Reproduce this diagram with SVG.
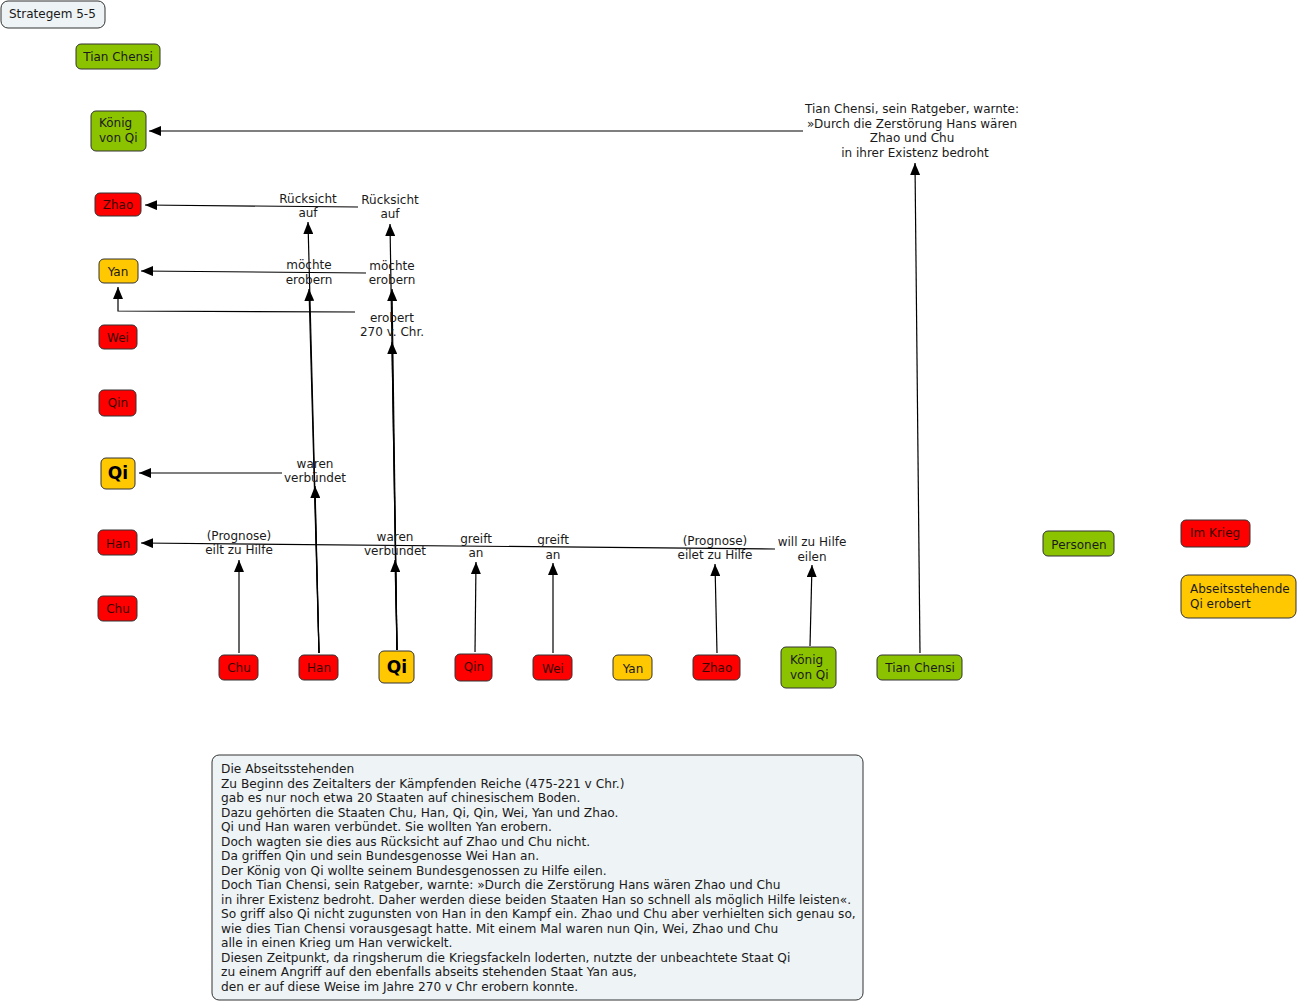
<svg xmlns="http://www.w3.org/2000/svg" width="1298" height="1002" viewBox="0 0 1298 1002">
<defs>
<marker id="ah" markerUnits="userSpaceOnUse" markerWidth="12" markerHeight="10" refX="12" refY="5" orient="auto"><path d="M0,0 L12,5 L0,10 z" fill="#000"/></marker>
<style>
text{font-family:"DejaVu Sans",Verdana,sans-serif;font-size:12px;fill:#1a1a1a}
.n rect{stroke:#333;stroke-width:1}
.g{fill:#8cc300}
.r{fill:#ff0000}
.o{fill:#ffc800}
.l{fill:#eef3f5}
.rt{fill:#3a0000}
.b{font-weight:bold;font-size:17px;fill:#000}
.c{text-anchor:middle}
#conn path{fill:none;stroke:#000;stroke-width:1.2}
.box text{font-size:12.2px}
</style>
</defs>
<rect width="1298" height="1002" fill="#fff"/>
<g id="conn">
<path d="M920,653 L915,163" marker-end="url(#ah)"/>
<path d="M803,131 L149,131" marker-end="url(#ah)"/>
<path d="M358,207 L145,205" marker-end="url(#ah)"/>
<path d="M366,273 L141,271" marker-end="url(#ah)"/>
<path d="M355,312 L118,311 L118,287" marker-end="url(#ah)"/>
<path d="M282,473 L139,473" marker-end="url(#ah)"/>
<path d="M775,549 L141,543" marker-end="url(#ah)"/>
<path d="M239,653 L239,560" marker-end="url(#ah)"/>
<path d="M319,653 L315,486" marker-end="url(#ah)"/>
<path d="M319,653 L309,289" marker-end="url(#ah)"/>
<path d="M319,653 L308,222" marker-end="url(#ah)"/>
<path d="M397,650 L395,560" marker-end="url(#ah)"/>
<path d="M397,650 L392,342" marker-end="url(#ah)"/>
<path d="M397,650 L392,289" marker-end="url(#ah)"/>
<path d="M397,650 L390,224" marker-end="url(#ah)"/>
<path d="M475,652 L476,562" marker-end="url(#ah)"/>
<path d="M553,653 L553,563" marker-end="url(#ah)"/>
<path d="M717,653 L715,564" marker-end="url(#ah)"/>
<path d="M810,646 L812,565" marker-end="url(#ah)"/>
</g>
<g id="labels">
<text class="c" x="912" y="113">Tian Chensi, sein Ratgeber, warnte:</text>
<text class="c" x="912" y="128">»Durch die Zerstörung Hans wären</text>
<text class="c" x="912" y="142">Zhao und Chu</text>
<text class="c" x="915" y="157">in ihrer Existenz bedroht</text>
<text class="c" x="308" y="203">Rücksicht</text><text class="c" x="308" y="217">auf</text>
<text class="c" x="390" y="204">Rücksicht</text><text class="c" x="390" y="218">auf</text>
<text class="c" x="309" y="269">möchte</text><text class="c" x="309" y="284">erobern</text>
<text class="c" x="392" y="270">möchte</text><text class="c" x="392" y="284">erobern</text>
<text class="c" x="392" y="322">erobert</text><text class="c" x="392" y="336">270 v. Chr.</text>
<text class="c" x="315" y="468">waren</text><text class="c" x="315" y="482">verbündet</text>
<text class="c" x="239" y="540">(Prognose)</text><text class="c" x="239" y="554">eilt zu Hilfe</text>
<text class="c" x="395" y="541">waren</text><text class="c" x="395" y="555">verbündet</text>
<text class="c" x="476" y="543">greift</text><text class="c" x="476" y="557">an</text>
<text class="c" x="553" y="544">greift</text><text class="c" x="553" y="559">an</text>
<text class="c" x="715" y="545">(Prognose)</text><text class="c" x="715" y="559">eilet zu Hilfe</text>
<text class="c" x="812" y="546">will zu Hilfe</text><text class="c" x="812" y="561">eilen</text>
</g>
<g id="strategem" class="n"><rect class="l" x="1" y="1" width="104" height="27" rx="7"/><text x="9" y="18">Strategem 5-5</text></g>
<g id="tian-top" class="n"><rect class="g" x="76" y="44" width="84" height="25" rx="5"/><text class="c" x="118" y="61">Tian Chensi</text></g>
<g id="koenig-left" class="n"><rect class="g" x="91" y="111" width="55" height="40" rx="5"/><text x="99" y="127">König</text><text x="99" y="142">von Qi</text></g>
<g id="zhao-left" class="n"><rect class="r" x="95" y="193" width="46" height="23" rx="5"/><text class="c rt" x="118" y="209">Zhao</text></g>
<g id="yan-left" class="n"><rect class="o" x="99" y="259" width="39" height="24" rx="5"/><text class="c" x="118" y="276">Yan</text></g>
<g id="wei-left" class="n"><rect class="r" x="99" y="325" width="38" height="24" rx="5"/><text class="c rt" x="118" y="342">Wei</text></g>
<g id="qin-left" class="n"><rect class="r" x="99" y="390" width="37" height="26" rx="5"/><text class="c rt" x="118" y="407">Qin</text></g>
<g id="qi-left" class="n"><rect class="o" x="101" y="458" width="34" height="31" rx="5"/><text class="c b" x="118" y="479">Qi</text></g>
<g id="han-left" class="n"><rect class="r" x="98" y="530" width="39" height="25" rx="5"/><text class="c rt" x="118" y="548">Han</text></g>
<g id="chu-left" class="n"><rect class="r" x="98" y="596" width="39" height="25" rx="5"/><text class="c rt" x="118" y="613">Chu</text></g>
<g id="chu-bottom" class="n"><rect class="r" x="219" y="655" width="39" height="25" rx="5"/><text class="c rt" x="239" y="672">Chu</text></g>
<g id="han-bottom" class="n"><rect class="r" x="299" y="655" width="39" height="25" rx="5"/><text class="c rt" x="319" y="672">Han</text></g>
<g id="qi-bottom" class="n"><rect class="o" x="379" y="651" width="35" height="32" rx="5"/><text class="c b" x="397" y="673">Qi</text></g>
<g id="qin-bottom" class="n"><rect class="r" x="455" y="654" width="37" height="27" rx="5"/><text class="c rt" x="474" y="671">Qin</text></g>
<g id="wei-bottom" class="n"><rect class="r" x="533" y="655" width="39" height="25" rx="5"/><text class="c rt" x="553" y="673">Wei</text></g>
<g id="yan-bottom" class="n"><rect class="o" x="613" y="655" width="39" height="25" rx="5"/><text class="c" x="633" y="673">Yan</text></g>
<g id="zhao-bottom" class="n"><rect class="r" x="693" y="655" width="47" height="25" rx="5"/><text class="c rt" x="717" y="672">Zhao</text></g>
<g id="koenig-bottom" class="n"><rect class="g" x="781" y="647" width="55" height="41" rx="5"/><text x="790" y="664">König</text><text x="790" y="679">von Qi</text></g>
<g id="tian-bottom" class="n"><rect class="g" x="877" y="655" width="85" height="25" rx="5"/><text class="c" x="920" y="672">Tian Chensi</text></g>
<g id="legend-personen" class="n"><rect class="g" x="1043" y="531" width="71" height="25" rx="5"/><text class="c" x="1079" y="549">Personen</text></g>
<g id="legend-krieg" class="n"><rect class="r" x="1181" y="520" width="69" height="27" rx="5"/><text class="rt" x="1190" y="537">Im Krieg</text></g>
<g id="legend-abseits" class="n"><rect class="o" x="1181" y="575" width="115" height="43" rx="7"/><text x="1190" y="593">Abseitsstehende</text><text x="1190" y="608">Qi erobert</text></g>
<g id="textbox" class="n box"><rect class="l" x="212" y="755" width="651" height="245" rx="7"/>
<text x="221" y="773">Die Abseitsstehenden</text>
<text x="221" y="788">Zu Beginn des Zeitalters der Kämpfenden Reiche (475-221 v Chr.)</text>
<text x="221" y="802">gab es nur noch etwa 20 Staaten auf chinesischem Boden.</text>
<text x="221" y="817">Dazu gehörten die Staaten Chu, Han, Qi, Qin, Wei, Yan und Zhao.</text>
<text x="221" y="831">Qi und Han waren verbündet. Sie wollten Yan erobern.</text>
<text x="221" y="846">Doch wagten sie dies aus Rücksicht auf Zhao und Chu nicht.</text>
<text x="221" y="860">Da griffen Qin und sein Bundesgenosse Wei Han an.</text>
<text x="221" y="875">Der König von Qi wollte seinem Bundesgenossen zu Hilfe eilen.</text>
<text x="221" y="889">Doch Tian Chensi, sein Ratgeber, warnte: »Durch die Zerstörung Hans wären Zhao und Chu</text>
<text x="221" y="904">in ihrer Existenz bedroht. Daher werden diese beiden Staaten Han so schnell als möglich Hilfe leisten«.</text>
<text x="221" y="918">So griff also Qi nicht zugunsten von Han in den Kampf ein. Zhao und Chu aber verhielten sich genau so,</text>
<text x="221" y="933">wie dies Tian Chensi vorausgesagt hatte. Mit einem Mal waren nun Qin, Wei, Zhao und Chu</text>
<text x="221" y="947">alle in einen Krieg um Han verwickelt.</text>
<text x="221" y="962">Diesen Zeitpunkt, da ringsherum die Kriegsfackeln loderten, nutzte der unbeachtete Staat Qi</text>
<text x="221" y="976">zu einem Angriff auf den ebenfalls abseits stehenden Staat Yan aus,</text>
<text x="221" y="991">den er auf diese Weise im Jahre 270 v Chr erobern konnte.</text>
</g>
</svg>
